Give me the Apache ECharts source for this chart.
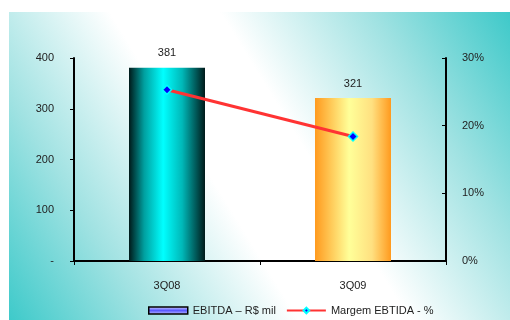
<!DOCTYPE html>
<html>
<head>
<meta charset="utf-8">
<script src="https://cdn.jsdelivr.net/npm/echarts@6/dist/echarts.min.js"></script>
<style>html,body{margin:0;padding:0;background:#fff;}#c{width:510px;height:320px;}</style>
</head>
<body>
<div id="c"></div>
<script>
var categories = ['3Q08', '3Q09'];
var ebitda = [381, 321];
var margem = [25.3, 18.4];
var leftTicks = [0, 100, 200, 300, 400];
var rightTicks = [0, 10, 20, 30];

var FONT = 'Liberation Sans';
var chart = echarts.init(document.getElementById('c'));

var barColors = [
  new echarts.graphic.LinearGradient(0, 0, 1, 0, [
    {offset: 0, color: '#001a1a'}, {offset: 0.2, color: '#00a0a0'},
    {offset: 0.45, color: '#00ffff'}, {offset: 0.7, color: '#00b8b8'},
    {offset: 1, color: '#001a1a'}]),
  new echarts.graphic.LinearGradient(0, 0, 1, 0, [
    {offset: 0, color: '#ff9a1e'}, {offset: 0.45, color: '#ffff99'},
    {offset: 0.75, color: '#ffe080'}, {offset: 1, color: '#ff9a1e'}])
];

chart.setOption({
  animation: false,
  textStyle: {fontFamily: FONT},
  graphic: [{
    type: 'rect', left: 9, top: 12, z: -10,
    shape: {width: 501, height: 308},
    style: {fill: new echarts.graphic.LinearGradient(0, 1, 1, 0, [
      {offset: 0, color: '#3ecaca'}, {offset: 0.2, color: '#a0e2e2'},
      {offset: 0.42, color: '#ffffff'}, {offset: 0.58, color: '#ffffff'},
      {offset: 0.8, color: '#a0e2e2'}, {offset: 1, color: '#3ec9c9'}])}
  }],
  grid: {left: 74, right: 64, top: 58, bottom: 59},
  legend: {
    left: 143, top: 300, itemGap: 10, itemWidth: 39, itemHeight: 7,
    textStyle: {fontFamily: FONT, fontSize: 11, color: '#222'},
    data: [
      {name: 'EBITDA – R$ mil', icon: 'rect',
        itemStyle: {color: new echarts.graphic.LinearGradient(0, 0, 0, 1, [
          {offset: 0, color: '#e0e0ff'}, {offset: 0.5, color: '#5a5aff'}, {offset: 1, color: '#c8c8ff'}]),
          borderColor: '#000', borderWidth: 1.5}},
      {name: 'Margem EBTIDA - %'}
    ]
  },
  xAxis: {
    type: 'category', data: categories, boundaryGap: true,
    axisLine: {lineStyle: {color: '#000', width: 2}},
    axisTick: {show: true, length: 4, lineStyle: {color: '#000', width: 1}},
    axisLabel: {fontSize: 11, color: '#222', margin: 19, fontFamily: FONT}
  },
  yAxis: [{
    type: 'value', min: leftTicks[0], max: leftTicks[leftTicks.length - 1], interval: 100,
    splitLine: {show: false},
    axisLine: {show: true, lineStyle: {color: '#000', width: 2}},
    axisTick: {show: true, length: 4, lineStyle: {color: '#000'}},
    axisLabel: {fontSize: 11, color: '#222', margin: 20, fontFamily: FONT,
      formatter: function (v) { return v === 0 ? '-' : String(v); }}
  }, {
    type: 'value', position: 'right', min: rightTicks[0], max: rightTicks[rightTicks.length - 1], interval: 10,
    splitLine: {show: false},
    axisLine: {show: true, lineStyle: {color: '#000', width: 2}},
    axisTick: {show: true, length: 4, inside: true, lineStyle: {color: '#000'}},
    axisLabel: {fontSize: 11, color: '#222', margin: 16, fontFamily: FONT,
      formatter: function (v) { return v + '%'; }}
  }],
  series: [{
    name: 'EBITDA – R$ mil', type: 'bar', yAxisIndex: 0, barWidth: 76,
    data: ebitda.map(function (v, i) { return {value: v, itemStyle: {color: barColors[i]}}; }),
    label: {show: true, position: 'top', distance: 9, fontSize: 11, color: '#222', fontFamily: FONT}
  }, {
    name: 'Margem EBTIDA - %', type: 'line', yAxisIndex: 1, data: margem,
    z: 5,
    lineStyle: {color: '#ff3333', width: 3},
    itemStyle: {color: '#0000ff', borderColor: '#00ffff', borderWidth: 1.5},
    symbol: 'diamond', symbolSize: 9
  }]
});
</script>
</body>
</html>
